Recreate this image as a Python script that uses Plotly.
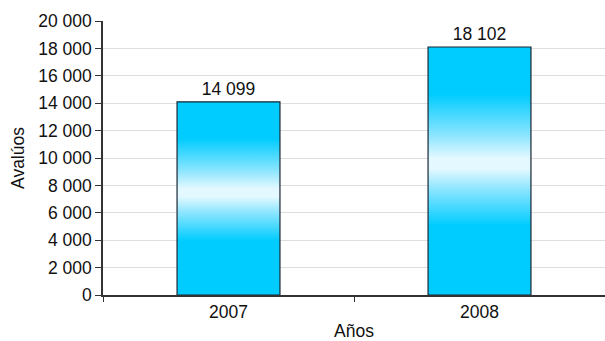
import plotly.graph_objects as go

years = ["2007", "2008"]
values = [14099, 18102]
y_ticks = [0, 2000, 4000, 6000, 8000, 10000, 12000, 14000, 16000, 18000, 20000]
y_title = "Avalúos"
x_title = "Años"

BAR_W = 0.41
FONT = "Liberation Sans, Arial, Helvetica, sans-serif"
FS = 17.5
CYAN = "#00CCFF"
LIGHT = "#8FE6FF"
PALE = "#E4F9FF"
# gradient stops as fractions of bar height
GRAD_SCALE = [[0, CYAN], [0.28, CYAN], [0.43, LIGHT], [0.51, PALE], [0.55, PALE],
              [0.64, LIGHT], [0.81, CYAN], [1, CYAN]]

def fmt(v):
    return f"{v:,}".replace(",", " ")

fig = go.Figure()

# text labels via bar trace on the category axis
fig.add_trace(go.Bar(
    x=years, y=values, width=BAR_W,
    marker=dict(color="rgba(0,0,0,0)", line=dict(width=0)),
    text=[fmt(v) for v in values], textposition="outside",
    textfont=dict(size=FS, color="#111"), cliponaxis=False,
    hoverinfo="skip", showlegend=False,
))

# gradient-filled bars on an overlaying linear axis
for i, v in enumerate(values):
    x0, x1 = i - BAR_W / 2, i + BAR_W / 2
    fig.add_trace(go.Scatter(
        x=[x0, x0, x1, x1, x0], y=[0, v, v, 0, 0],
        xaxis="x2", mode="lines", fill="toself",
        line=dict(color="#1b2633", width=1.2),
        fillgradient=dict(type="vertical", start=0, stop=v, colorscale=GRAD_SCALE),
        hoverinfo="skip", showlegend=False,
    ))

fig.update_layout(
    width=605, height=341,
    margin=dict(l=103, r=0, t=21, b=46),
    paper_bgcolor="white", plot_bgcolor="white",
    font=dict(family=FONT, size=FS, color="#111"),
    bargap=0,
    xaxis=dict(
        type="category", range=[-0.5, 1.5], tickson="boundaries",
        ticks="outside", ticklen=5, tickcolor="#333", tickwidth=1,
        showline=True, linecolor="#333", linewidth=1.5,
        showgrid=False, zeroline=False,
        tickfont=dict(size=FS), title=dict(text=x_title, font=dict(size=FS), standoff=6),
    ),
    xaxis2=dict(overlaying="x", range=[-0.5, 1.5], visible=False),
    yaxis=dict(
        range=[0, 20000], tickvals=y_ticks, ticktext=[fmt(t) for t in y_ticks],
        ticks="outside", ticklen=6, tickcolor="#333", tickwidth=1,
        showline=True, linecolor="#333", linewidth=1.5,
        showgrid=True, gridcolor="#dedede", gridwidth=1, zeroline=False,
        tickfont=dict(size=FS), title=dict(text=y_title, font=dict(size=FS), standoff=9),
    ),
)

fig.write_html("out.html", config={"displayModeBar": False},
               post_script="document.body.style.margin='0px';")
